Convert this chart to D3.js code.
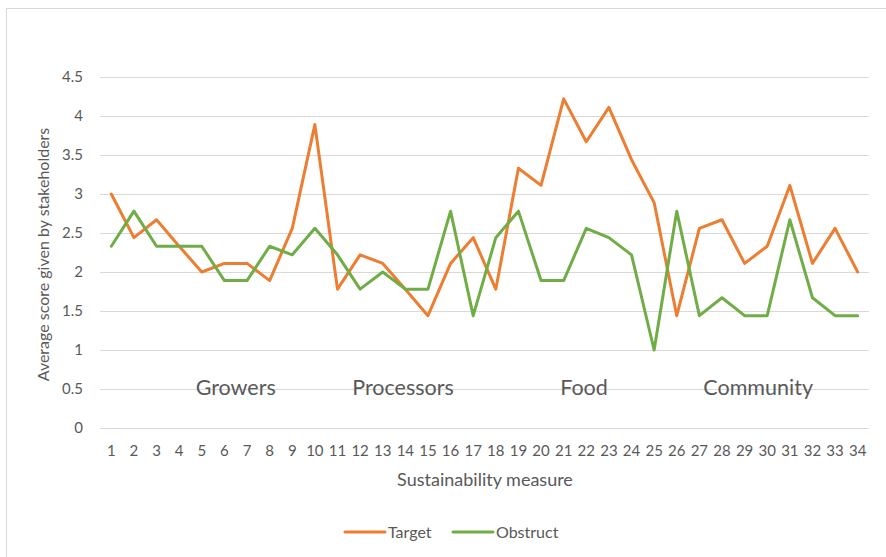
<!DOCTYPE html>
<html>
<head>
<meta charset="utf-8">
<script src="https://cdn.jsdelivr.net/npm/d3@7"></script>
<style>
  body { margin: 0; background: #fff; }
  svg text { font-family: Lato, "Open Sans", sans-serif; fill: #595959; }
</style>
</head>
<body>
<svg id="chart" width="886" height="557"></svg>
<script>
// Sustainability measures 1..34
const measures = d3.range(1, 35);
const yTicks = [0, 0.5, 1, 1.5, 2, 2.5, 3, 3.5, 4, 4.5];

// Average stakeholder scores per measure
const targetScores = [3.00, 2.44, 2.67, 2.33, 2.00, 2.11, 2.11, 1.89, 2.56, 3.89,
                      1.78, 2.22, 2.11, 1.78, 1.44, 2.11, 2.44, 1.78, 3.33, 3.11,
                      4.22, 3.67, 4.11, 3.44, 2.89, 1.44, 2.56, 2.67, 2.11, 2.33,
                      3.11, 2.11, 2.56, 2.00];
const obstructScores = [2.33, 2.78, 2.33, 2.33, 2.33, 1.89, 1.89, 2.33, 2.22, 2.56,
                        2.22, 1.78, 2.00, 1.78, 1.78, 2.78, 1.44, 2.44, 2.78, 1.89,
                        1.89, 2.56, 2.44, 2.22, 1.00, 2.78, 1.44, 1.67, 1.44, 1.44,
                        2.67, 1.67, 1.44, 1.44];

// Stakeholder groups shown inside the plot
const groupNames = ["Growers", "Processors", "Food", "Community"];
const groupCentres = [6.5, 13.9, 21.9, 29.6];

const seriesNames = ["Target", "Obstruct"];
const seriesColors = ["#ED7D31", "#70AD47"];

const svg = d3.select("#chart");
const margin = { left: 100, right: 17, top: 77, bottom: 129 };
const W = 886, H = 557;

// Chart frame
svg.append("rect")
  .attr("x", 6.5).attr("y", 8.5)
  .attr("width", W).attr("height", H)
  .attr("fill", "#fff").attr("stroke", "#d9d9d9").attr("stroke-width", 1);

const x = d3.scaleBand()
  .domain(measures)
  .range([margin.left, W - margin.right]);
const y = d3.scaleLinear()
  .domain([0, 4.5])
  .range([H - margin.bottom, margin.top]);

// Horizontal gridlines
svg.append("g")
  .attr("transform", `translate(${margin.left},0)`)
  .call(d3.axisLeft(y).tickValues(yTicks)
    .tickSize(-(W - margin.right - margin.left)).tickFormat(""))
  .call(g => g.select(".domain").remove())
  .call(g => g.selectAll("line").attr("stroke", "#d9d9d9").attr("stroke-width", 1));

// Y tick labels
svg.append("g")
  .attr("transform", `translate(${margin.left - 17},0)`)
  .call(d3.axisLeft(y).tickValues(yTicks).tickSize(0).tickPadding(0).tickFormat(d3.format("")))
  .call(g => g.select(".domain").remove())
  .call(g => g.selectAll("text").style("font-size", "15px").attr("fill", "#595959"));

// X tick labels
svg.append("g")
  .attr("transform", `translate(0,${H - margin.bottom})`)
  .call(d3.axisBottom(x).tickSize(0).tickPadding(17))
  .call(g => g.select(".domain").remove())
  .call(g => g.selectAll("text").style("font-size", "15px").attr("fill", "#595959"));

// Axis titles
svg.append("text")
  .attr("x", 485).attr("y", 486)
  .attr("text-anchor", "middle").style("font-size", "18px")
  .text("Sustainability measure");
svg.append("text")
  .attr("transform", `translate(49,${y(2.25) + 2}) rotate(-90)`)
  .attr("text-anchor", "middle").style("font-size", "16px")
  .text("Average score given by stakeholders");

// Group labels
const xc = v => x(1) + x.bandwidth() / 2 + (v - 1) * x.step();
svg.append("g").selectAll("text")
  .data(groupNames)
  .join("text")
  .attr("x", (d, i) => xc(groupCentres[i]))
  .attr("y", y(0.5) + 6)
  .attr("text-anchor", "middle")
  .style("font-size", "21.5px")
  .text(d => d);

// Series lines
const series = [targetScores, obstructScores];
const line = d3.line()
  .x((d, i) => x(measures[i]) + x.bandwidth() / 2)
  .y(d => y(d));
svg.append("g").selectAll("path")
  .data(series)
  .join("path")
  .attr("d", line)
  .attr("fill", "none")
  .attr("stroke", (d, i) => seriesColors[i])
  .attr("stroke-width", 3)
  .attr("stroke-linejoin", "round")
  .attr("stroke-linecap", "round");

// Legend
const legendX = [345, 453];
const legend = svg.append("g").selectAll("g")
  .data(seriesNames)
  .join("g")
  .attr("transform", (d, i) => `translate(${legendX[i]},532)`);
legend.append("line")
  .attr("x1", 0).attr("x2", 40)
  .attr("stroke", (d, i) => seriesColors[i])
  .attr("stroke-width", 3).attr("stroke-linecap", "round");
legend.append("text")
  .attr("x", 43).attr("y", 6)
  .style("font-size", "16px")
  .text(d => d);
</script>
</body>
</html>
